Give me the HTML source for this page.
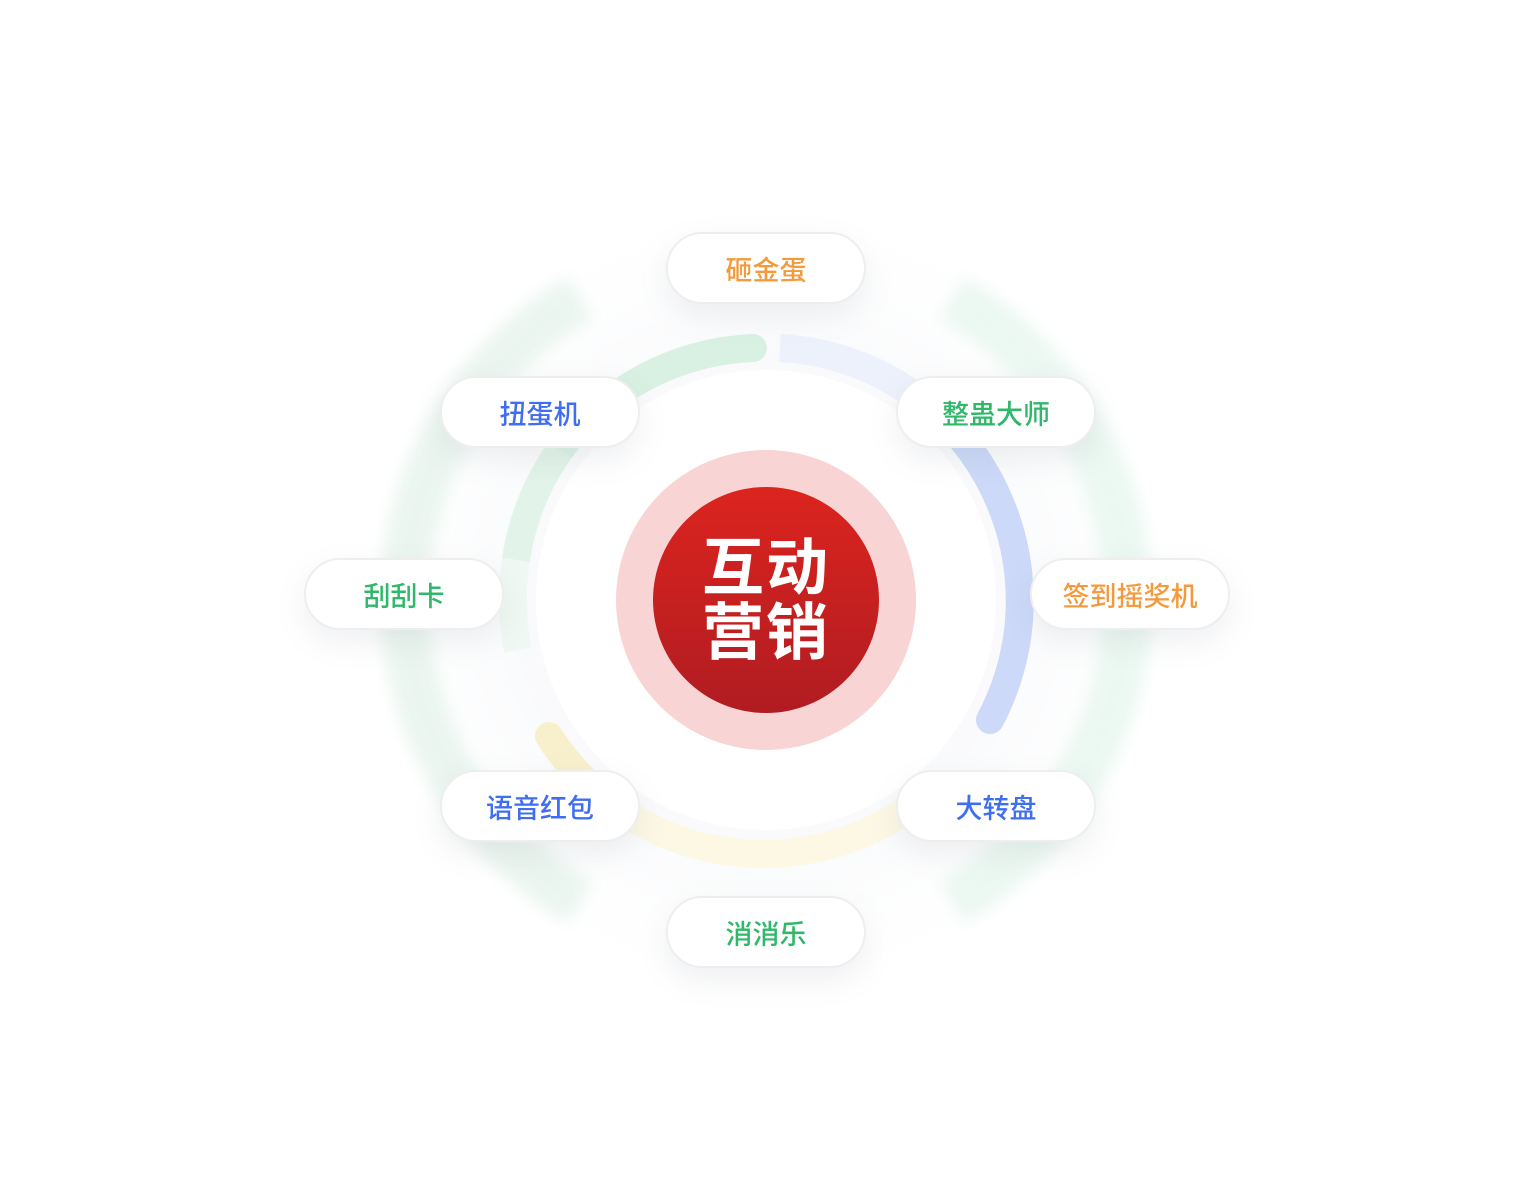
<!DOCTYPE html>
<html><head><meta charset="utf-8"><style>
html,body{margin:0;padding:0;background:#fff;}
body{width:1532px;height:1200px;position:relative;overflow:hidden;font-family:"Liberation Sans","Noto Sans CJK SC",sans-serif;}
svg{position:absolute;left:0;top:0;}
.pill{position:absolute;width:200px;height:72px;margin-left:-100px;margin-top:-36px;border-radius:36px;background:#fff;border:2px solid #eeeeee;box-sizing:border-box;box-shadow:0 12px 30px rgba(120,130,150,0.12);display:flex;align-items:center;justify-content:center;font-size:27px;font-weight:500;}
.o{color:#f59a3c}.b{color:#3f6ef0}.g{color:#2fb86a}
.center{position:absolute;left:666px;top:536px;width:200px;text-align:center;color:#fff;font-weight:bold;font-size:62px;line-height:65px;letter-spacing:2px;}
</style></head><body>
<svg width="1532" height="1200" viewBox="0 0 1532 1200">
<defs>
<radialGradient id="glow" cx="50%" cy="50%" r="50%">
<stop offset="0.6" stop-color="#f3f5f8" stop-opacity="0.9"/>
<stop offset="1" stop-color="#ffffff" stop-opacity="0"/>
</radialGradient>
<linearGradient id="red" x1="0" y1="0" x2="0" y2="1">
<stop offset="0" stop-color="#dc241e"/><stop offset="1" stop-color="#b01c22"/>
</linearGradient>
<filter id="blur"><feGaussianBlur stdDeviation="18"/></filter>
<filter id="soft" x="-20%" y="-20%" width="140%" height="140%"><feGaussianBlur stdDeviation="8"/></filter>
</defs>
<circle cx="766" cy="600" r="420" fill="url(#glow)" opacity="0.5"/>
<g filter="url(#soft)" opacity="0.7">
<path d="M 580 298 A 348 348 0 0 0 580 902" fill="none" stroke="#e3f2e9" stroke-width="48"/>
<path d="M 952 298 A 348 348 0 0 1 952 902" fill="none" stroke="#e3f5ec" stroke-width="48"/>
</g>
<circle cx="766" cy="600" r="230" fill="#fff"/>
<circle cx="766" cy="600" r="170" fill="#fff" filter="url(#blur)" opacity="0.9"/>
<path d="M 753 348 A 254 254 0 0 0 560 450" fill="none" stroke="#d9f1e3" stroke-width="28" stroke-linecap="round"/>
<path d="M 560 450 A 254 254 0 0 0 516 560" fill="none" stroke="#e2f4e9" stroke-width="28"/>
<path d="M 516 560 A 254 254 0 0 0 518 650" fill="none" stroke="#f0f8f3" stroke-width="28"/>
<path d="M 780 348 A 254 254 0 0 1 960 437" fill="none" stroke="#edf1fc" stroke-width="28"/>
<path d="M 960 437 A 254 254 0 0 1 990 720" fill="none" stroke="#ccd9f8" stroke-width="28" stroke-linecap="round"/>
<path d="M 549 736 A 254 254 0 0 0 766 854 A 254 254 0 0 0 920 800" fill="none" stroke="#fcf8e4" stroke-width="28" stroke-linecap="round"/>
<path d="M 549 736 A 254 254 0 0 0 610 802" fill="none" stroke="#f8f0cc" stroke-width="28" stroke-linecap="round"/>
<circle cx="766" cy="600" r="158" fill="#fff"/>
<circle cx="766" cy="600" r="150" fill="#f8d4d4"/>
<circle cx="766" cy="600" r="113" fill="url(#red)"/>
</svg>
<div class="center">互动<br>营销</div>
<div class="pill o" style="left:766px;top:268px">砸金蛋</div>
<div class="pill b" style="left:540px;top:412px">扭蛋机</div>
<div class="pill g" style="left:996px;top:412px">整蛊大师</div>
<div class="pill g" style="left:404px;top:594px">刮刮卡</div>
<div class="pill o" style="left:1130px;top:594px">签到摇奖机</div>
<div class="pill b" style="left:540px;top:806px">语音红包</div>
<div class="pill b" style="left:996px;top:806px">大转盘</div>
<div class="pill g" style="left:766px;top:932px">消消乐</div>
</body></html>
